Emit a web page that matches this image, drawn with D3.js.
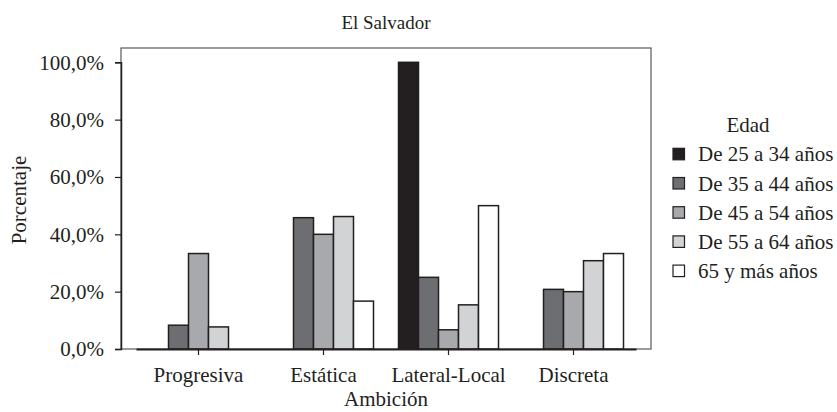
<!DOCTYPE html>
<html>
<head>
<meta charset="UTF-8">
<title>El Salvador</title>
<script src="https://d3js.org/d3.v7.min.js"></script>
<style>
  body { margin: 0; background: #fff; }
</style>
</head>
<body>
<div class="canvas"></div>
<script>
  const categories = ['Progresiva', 'Estática', 'Lateral-Local', 'Discreta']
  const series = ['De 25 a 34 años', 'De 35 a 44 años', 'De 45 a 54 años', 'De 55 a 64 años', '65 y más años']
  // porcentaje por categoría, en el orden de series
  const progresiva = [0, 8.3, 33.3, 7.7, 0]
  const estatica = [0, 45.8, 40.0, 46.2, 16.7]
  const lateralLocal = [100, 25.0, 6.7, 15.4, 50.0]
  const discreta = [0, 20.8, 20.0, 30.8, 33.3]
  const yTicks = [0, 20, 40, 60, 80, 100]
  const colors = ['#231f20', '#6d6e71', '#a7a9ac', '#d1d3d4', '#ffffff']

  const values = [progresiva, estatica, lateralLocal, discreta]

  const width = 837
  const height = 412
  const [pl, pr, pt, pb] = [121, 651, 48, 349]
  const FONT = "'Liberation Serif'"
  const FS = '21px'

  const svg = d3.select('.canvas')
    .append('svg')
    .attr('width', width)
    .attr('height', height)

  const x = d3.scaleBand()
    .domain(categories)
    .range([136, 636])

  const xi = d3.scaleBand()
    .domain(series)
    .range([12.5, x.bandwidth() - 12.5])

  const y = d3.scaleLinear()
    .domain([0, 100])
    .range([pb, 62.3])

  // marco
  svg.append('rect')
    .attr('x', pl).attr('y', pt)
    .attr('width', pr - pl).attr('height', pb - pt)
    .attr('fill', 'none')
    .attr('stroke', '#58595b')
    .attr('stroke-width', 1.2)

  // eje y
  const yAxisG = svg.append('g')
    .attr('transform', `translate(${pl}, 0)`)
    .call(d3.axisLeft(y).tickValues(yTicks).tickSize(6).tickPadding(11)
      .tickFormat(d => d3.format('.1f')(d).replace('.', ',') + '%'))
  yAxisG.attr('font-family', null).attr('font-size', null)
  yAxisG.select('.domain').attr('stroke', '#231f20').attr('stroke-width', 1.5)
  yAxisG.selectAll('.tick line').attr('stroke', '#231f20').attr('stroke-width', 1.2)

  // barras
  const groups = svg.selectAll('g.cat')
    .data(categories)
    .enter()
    .append('g')
    .attr('class', 'cat')
    .attr('transform', d => `translate(${x(d)}, 0)`)

  groups.selectAll('rect')
    .data((d, i) => values[i].map((v, j) => ({ s: series[j], v: v, c: colors[j] })))
    .enter()
    .append('rect')
    .attr('x', d => xi(d.s))
    .attr('width', xi.bandwidth())
    .attr('y', d => y(d.v))
    .attr('height', d => pb - y(d.v))
    .attr('fill', d => d.c)
    .attr('stroke', '#231f20')
    .attr('stroke-width', 1.5)

  // eje x
  const xAxisG = svg.append('g')
    .attr('transform', `translate(0, ${pb})`)
    .call(d3.axisBottom(x).tickSize(6).tickSizeOuter(0).tickPadding(12))
  xAxisG.attr('font-family', null).attr('font-size', null)
  xAxisG.select('.domain').attr('stroke', '#231f20').attr('stroke-width', 2)
  xAxisG.selectAll('.tick line').attr('stroke', '#231f20').attr('stroke-width', 1.2)

  // títulos
  svg.append('text')
    .attr('x', 386).attr('y', 29)
    .attr('text-anchor', 'middle')
    .style('font-size', '19px')
    .text('El Salvador')

  svg.append('text')
    .attr('transform', 'translate(26, 200) rotate(-90)')
    .attr('text-anchor', 'middle')
    .style('font-size', FS)
    .text('Porcentaje')

  svg.append('text')
    .attr('x', 386).attr('y', 406)
    .attr('text-anchor', 'middle')
    .style('font-size', FS)
    .text('Ambición')

  // leyenda
  const legend = svg.append('g')
    .attr('transform', 'translate(673, 0)')

  legend.append('text')
    .attr('x', 75).attr('y', 132)
    .attr('text-anchor', 'middle')
    .style('font-size', FS)
    .text('Edad')

  const items = legend.selectAll('g.item')
    .data(series)
    .enter()
    .append('g')
    .attr('class', 'item')
    .attr('transform', (d, i) => `translate(0, ${154.3 + i * 29.2})`)

  items.append('rect')
    .attr('x', 0).attr('y', -6)
    .attr('width', 11.5).attr('height', 11.5)
    .attr('fill', (d, i) => colors[i])
    .attr('stroke', '#231f20')
    .attr('stroke-width', 1.2)

  items.append('text')
    .attr('x', 25).attr('y', 7)
    .style('font-size', FS)
    .text(d => d)

  // tipografía común
  svg.selectAll('text')
    .style('font-family', FONT)
    .attr('fill', '#231f20')
  svg.selectAll('.tick text')
    .style('font-size', FS)
</script>
</body>
</html>
